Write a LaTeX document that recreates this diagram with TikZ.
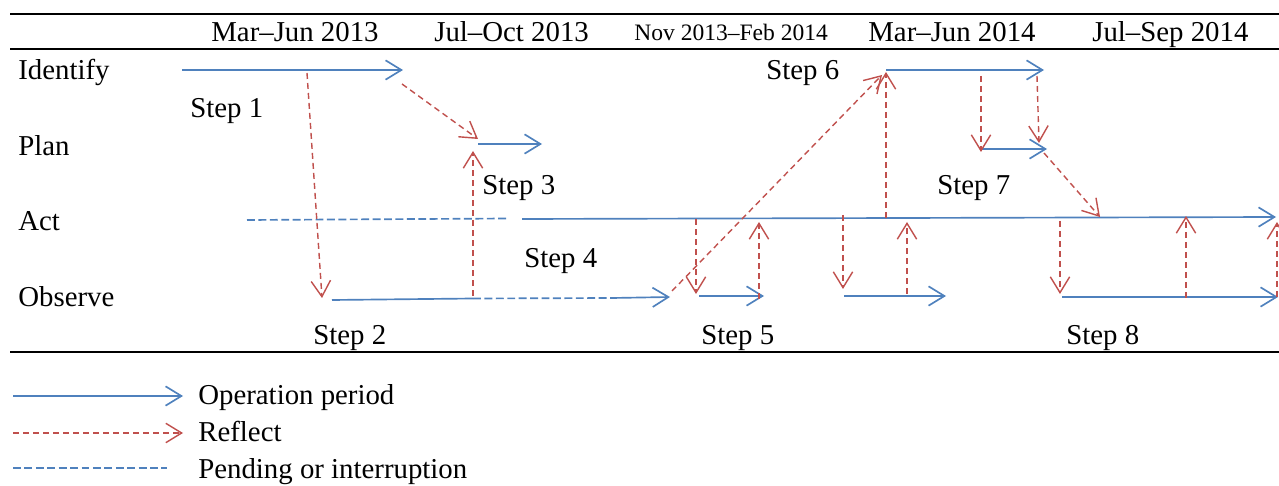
\documentclass[tikz,border=0pt]{standalone}
\usepackage{fontspec}
\setmainfont{Liberation Serif}
\usetikzlibrary{arrows.meta}
\definecolor{opblue}{HTML}{4F81BD}
\definecolor{refred}{HTML}{C0504D}
\begin{document}
\begin{tikzpicture}[x=0.02cm,y=-0.02cm,
 lbl/.style={anchor=base west,inner sep=0,font=\fontsize{16.4}{18}\selectfont},
 smalllbl/.style={anchor=base west,inner sep=0,font=\fontsize{13.4}{15}\selectfont},
 tipv/.style={-{Straight Barb[length=9pt,width=11pt]}},
 op/.style={draw=opblue,line width=0.95pt,tipv},
 opline/.style={draw=opblue,line width=0.95pt},
 pend/.style={draw=opblue,line width=0.95pt,dash pattern=on 4.5pt off 2pt},
 refl/.style={draw=refred,line width=0.8pt,dash pattern=on 3.4pt off 2.3pt,tipv},
 rulel/.style={line width=1.3pt}]
\useasboundingbox (0,0) rectangle (1279,486);
% rules
\coordinate (r1a) at (10,14); \coordinate (r1b) at (1279,14);
\coordinate (r2a) at (10,49); \coordinate (r2b) at (1279,49);
\coordinate (r3a) at (10,352); \coordinate (r3b) at (1279,352);
\draw[rulel] (r1a) -- (r1b);
\draw[rulel] (r2a) -- (r2b);
\draw[rulel] (r3a) -- (r3b);
% headers
\node[lbl] (h1) at (211,41.5) {Mar–Jun 2013};
\node[lbl] (h2) at (434,41.5) {Jul–Oct 2013};
\node[smalllbl] (h3) at (634,40.7) {Nov 2013–Feb 2014};
\node[lbl] (h4) at (868,41.5) {Mar–Jun 2014};
\node[lbl] (h5) at (1092,41.5) {Jul–Sep 2014};
% rows
\node[lbl] (rid) at (18,80) {Identify};
\node[lbl] (rpl) at (18,156) {Plan};
\node[lbl] (rac) at (18,231) {Act};
\node[lbl] (rob) at (18,307) {Observe};
% steps
\node[lbl] (s1) at (190,118) {Step 1};
\node[lbl] (s2) at (313,345) {Step 2};
\node[lbl] (s3) at (482,195) {Step 3};
\node[lbl] (s4) at (524,268) {Step 4};
\node[lbl] (s5) at (701,345) {Step 5};
\node[lbl] (s6) at (766,80) {Step 6};
\node[lbl] (s7) at (937,195) {Step 7};
\node[lbl] (s8) at (1066,345) {Step 8};
% blue coordinates
\coordinate (i1a) at (182,70); \coordinate (i1b) at (403,70);
\coordinate (p1a) at (478,144); \coordinate (p1b) at (542,144);
\coordinate (i2a) at (886,70); \coordinate (i2b) at (1044,70);
\coordinate (p2a) at (981,149); \coordinate (p2b) at (1047,149);
\coordinate (a0) at (247,220); \coordinate (a1) at (508,218.5);
\coordinate (a2) at (522,219); \coordinate (a3) at (1276,217);
\coordinate (o1) at (332,300); \coordinate (o2) at (473,298.5);
\coordinate (o3) at (612,298); \coordinate (o4) at (670,297);
\coordinate (o5a) at (699,296); \coordinate (o5b) at (764,296);
\coordinate (o6a) at (844,296); \coordinate (o6b) at (946,296);
\coordinate (o8a) at (1062,297); \coordinate (o8b) at (1278,297);
\draw[op] (i1a) -- (i1b);
\draw[op] (p1a) -- (p1b);
\draw[op] (i2a) -- (i2b);
\draw[op] (p2a) -- (p2b);
\draw[pend] (a0) -- (a1);
\draw[op] (a2) -- (a3);
\draw[opline] (o1) -- (o2);
\draw[pend] (o2) -- (o3);
\draw[op] (o3) -- (o4);
\draw[op] (o5a) -- (o5b);
\draw[op] (o6a) -- (o6b);
\draw[op] (o8a) -- (o8b);
% red reflect arrows
\coordinate (f1a) at (307,73); \coordinate (f1b) at (322,298);
\coordinate (f2a) at (402,84); \coordinate (f2b) at (478,139);
\coordinate (f3a) at (473,296); \coordinate (f3b) at (473,151);
\coordinate (f4a) at (672,291); \coordinate (f4b) at (882,75);
\coordinate (f5a) at (886,218); \coordinate (f5b) at (886,72);
\coordinate (f6a) at (696,219); \coordinate (f6b) at (696,294);
\coordinate (f7a) at (759,299); \coordinate (f7b) at (759,222);
\coordinate (f8a) at (843,215); \coordinate (f8b) at (843,289);
\coordinate (f9a) at (907,294); \coordinate (f9b) at (907,222);
\coordinate (f10a) at (981,76); \coordinate (f10b) at (981,152);
\coordinate (f11a) at (1037,76); \coordinate (f11b) at (1039,143);
\coordinate (f12a) at (1044,153); \coordinate (f12b) at (1100,217);
\coordinate (f13a) at (1060,221); \coordinate (f13b) at (1060,294);
\coordinate (f14a) at (1186,298); \coordinate (f14b) at (1186,216);
\coordinate (f15a) at (1277,297); \coordinate (f15b) at (1277,222);
\foreach \k in {1,...,15} {\draw[refl] (f\k a) -- (f\k b);}
% legend
\coordinate (l1a) at (13,396); \coordinate (l1b) at (183,396);
\coordinate (l2a) at (13,433); \coordinate (l2b) at (183,433);
\coordinate (l3a) at (13,468); \coordinate (l3b) at (167,468);
\draw[op] (l1a) -- (l1b);
\draw[refl] (l2a) -- (l2b);
\draw[pend] (l3a) -- (l3b);
\node[lbl] (t1) at (198,405) {Operation period};
\node[lbl] (t2) at (198,441.5) {Reflect};
\node[lbl] (t3) at (198,478.5) {Pending or interruption};
\end{tikzpicture}
\end{document}
